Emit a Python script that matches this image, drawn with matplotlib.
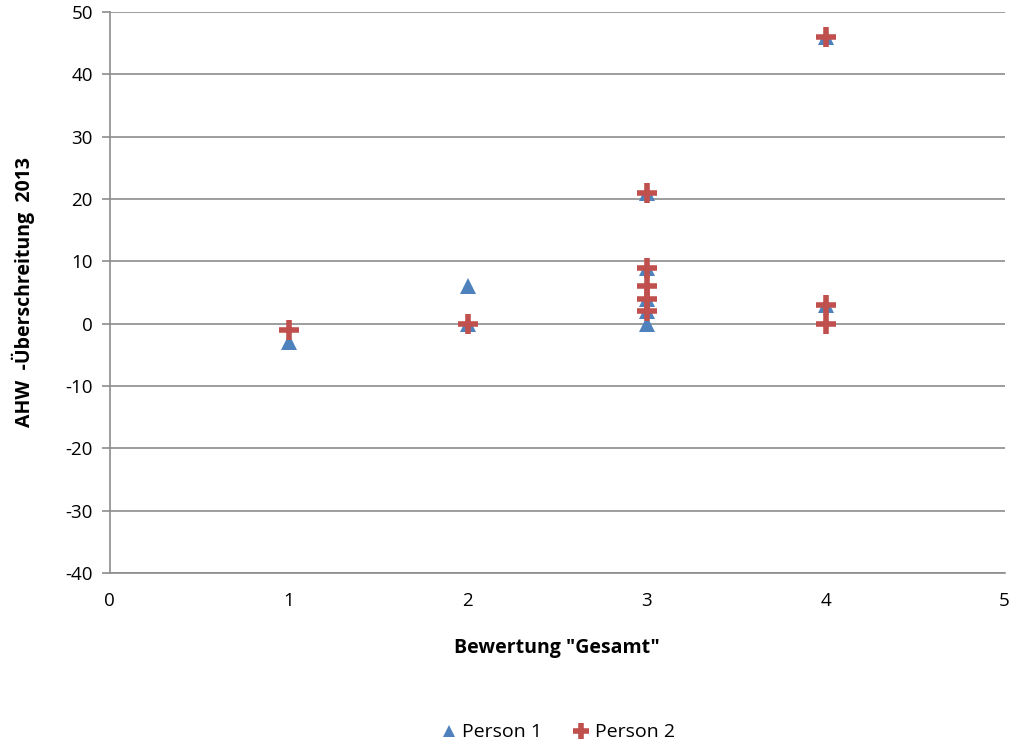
import matplotlib.pyplot as plt

plt.rcParams['font.family'] = ['Open Sans', 'DejaVu Sans']
plt.rcParams['axes.unicode_minus'] = False

# Data
p1_x = [1, 2, 2, 3, 3, 3, 3, 3, 4, 4]
p1_y = [-3, 6, 0, 21, 9, 4, 2, 0, 46, 3]
p2_x = [1, 2, 3, 3, 3, 3, 3, 4, 4, 4]
p2_y = [-1, 0, 21, 9, 6, 4, 2, 46, 3, 0]

fig = plt.figure(figsize=(10.24, 7.49), dpi=100)
ax = fig.add_axes([0.107, 0.235, 0.874, 0.749])

ax.plot(p1_x, p1_y, linestyle='none', marker='^', markersize=12, markeredgewidth=0,
        color='#4F81BD', label='Person 1', zorder=3)
ax.plot(p2_x, p2_y, linestyle='none', marker='+', markersize=15, markeredgewidth=4,
        color='#C0504D', label='Person 2', zorder=4)

ax.set_xlim(0, 5)
ax.set_ylim(-40, 50)
ax.set_xticks(range(0, 6))
ax.set_yticks(range(-40, 51, 10))
ax.yaxis.grid(True, color='#8c8c8c', linewidth=1.2)
ax.set_axisbelow(True)

for s in ['top', 'right']:
    ax.spines[s].set_visible(False)
for s in ['left', 'bottom']:
    ax.spines[s].set_color('#8c8c8c')
    ax.spines[s].set_linewidth(1.2)
ax.tick_params(axis='both', colors='#8c8c8c', width=1.2, labelsize=13.5, labelcolor='black')
ax.tick_params(axis='y', length=6, pad=6)
ax.tick_params(axis='x', length=0, pad=14)

ax.set_xlabel('Bewertung "Gesamt"', fontsize=14, fontweight='bold', labelpad=20)
ax.set_ylabel('AHW  -Überschreitung  2013', fontsize=14, fontweight='bold', labelpad=22)

ax.legend(loc='upper center', bbox_to_anchor=(0.5, -0.237), ncol=2, frameon=False,
          fontsize=14, handletextpad=0.2, columnspacing=1.5, handlelength=1.0, markerscale=0.75)

fig.savefig('out.png', dpi=100)
